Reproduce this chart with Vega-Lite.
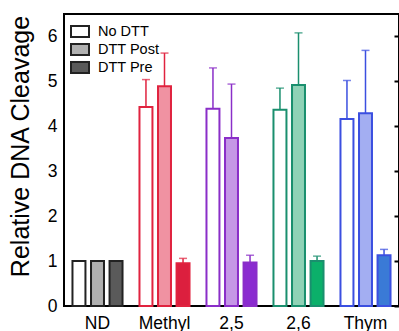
{
  "$schema": "https://vega.github.io/schema/vega-lite/v6.json",
  "width": 335,
  "height": 292,
  "autosize": {"type": "none"},
  "padding": {"left": 64, "top": 14, "right": 0, "bottom": 25},
  "config": {
    "font": "Liberation Sans",
    "view": {"stroke": "black", "strokeWidth": 2},
    "axis": {"labelColor": "black", "titleColor": "black", "domainColor": "black", "domainWidth": 2, "grid": false}
  },
  "data": {
    "values": [
      {"group": "ND", "type": "No DTT", "value": 1, "hi": null},
      {"group": "ND", "type": "DTT Post", "value": 1, "hi": null},
      {"group": "ND", "type": "DTT Pre", "value": 1, "hi": null},
      {"group": "Methyl", "type": "No DTT", "value": 4.43, "hi": 5.04},
      {"group": "Methyl", "type": "DTT Post", "value": 4.89, "hi": 5.63},
      {"group": "Methyl", "type": "DTT Pre", "value": 0.95, "hi": 1.06},
      {"group": "2,5", "type": "No DTT", "value": 4.39, "hi": 5.3},
      {"group": "2,5", "type": "DTT Post", "value": 3.74, "hi": 4.94},
      {"group": "2,5", "type": "DTT Pre", "value": 0.97, "hi": 1.13},
      {"group": "2,6", "type": "No DTT", "value": 4.37, "hi": 4.85},
      {"group": "2,6", "type": "DTT Post", "value": 4.92, "hi": 6.08},
      {"group": "2,6", "type": "DTT Pre", "value": 1.0, "hi": 1.11},
      {"group": "Thym", "type": "No DTT", "value": 4.16, "hi": 5.02},
      {"group": "Thym", "type": "DTT Post", "value": 4.29, "hi": 5.69},
      {"group": "Thym", "type": "DTT Pre", "value": 1.13, "hi": 1.26}
    ]
  },
  "transform": [{"calculate": "datum.group + '|' + datum.type", "as": "key"}],
  "encoding": {
    "x": {
      "field": "group", "type": "nominal",
      "sort": ["ND", "Methyl", "2,5", "2,6", "Thym"],
      "scale": {"paddingInner": 0.17, "paddingOuter": 0.085},
      "axis": {"title": null, "labelAngle": 0, "ticks": false, "labelFontSize": 17.5, "labelPadding": 8, "domain": false}
    },
    "xOffset": {
      "field": "type", "type": "nominal",
      "sort": ["No DTT", "DTT Post", "DTT Pre"],
      "scale": {"domain": ["No DTT", "DTT Post", "DTT Pre"], "paddingInner": 0.3, "paddingOuter": 0.15}
    }
  },
  "layer": [
    {
      "transform": [{"filter": "datum.group !== 'ND'"}],
      "mark": {"type": "bar", "strokeWidth": 2},
      "encoding": {
        "y": {
          "field": "value", "type": "quantitative",
          "scale": {"domain": [0, 6.5], "nice": false, "zero": true},
          "axis": {"orient": "left", "title": "Relative DNA Cleavage", "titleFontSize": 25, "titleFontWeight": "normal", "titlePadding": 14, "titleY": 132,
                   "values": [0, 1, 2, 3, 4, 5, 6], "ticks": false, "labelFontSize": 17.5, "labelPadding": 7, "domain": false}
        },
        "fill": {
          "field": "key", "type": "nominal", "legend": null,
          "scale": {
            "domain": ["Methyl|No DTT", "Methyl|DTT Post", "Methyl|DTT Pre",
                       "2,5|No DTT", "2,5|DTT Post", "2,5|DTT Pre",
                       "2,6|No DTT", "2,6|DTT Post", "2,6|DTT Pre",
                       "Thym|No DTT", "Thym|DTT Post", "Thym|DTT Pre"],
            "range": ["#ffffff", "#f092a2", "#dc1f3e",
                      "#ffffff", "#c597e6", "#8a2bd0",
                      "#ffffff", "#8fd2b6", "#0bb06a",
                      "#ffffff", "#a3aef2", "#3a7ad6"]
          }
        },
        "stroke": {
          "field": "group", "type": "nominal", "legend": null,
          "scale": {"domain": ["Methyl", "2,5", "2,6", "Thym"], "range": ["#e0233f", "#8a2ec8", "#1a8f6e", "#3b4fe0"]}
        }
      }
    },
    {
      "transform": [{"filter": "datum.group === 'ND'"}],
      "mark": {"type": "bar", "strokeWidth": 2, "stroke": "#222"},
      "encoding": {
        "y": {"field": "value", "type": "quantitative", "axis": null},
        "fill": {
          "field": "type", "type": "nominal",
          "scale": {"domain": ["No DTT", "DTT Post", "DTT Pre"], "range": ["#ffffff", "#b0b0b0", "#5a5a5a"]},
          "legend": {
            "title": null, "orient": "none", "legendX": 6, "legendY": 10,
            "symbolType": "M-1,-0.62H1V0.62H-1Z", "symbolSize": 324,
            "symbolStrokeColor": "#222", "symbolStrokeWidth": 2,
            "labelFontSize": 14.5, "labelColor": "black", "labelOffset": 8, "rowPadding": 2, "clipHeight": 15, "padding": 0
          }
        }
      }
    },
    {
      "transform": [{"filter": "datum.hi !== null"}],
      "mark": {"type": "rule", "strokeWidth": 1.5},
      "encoding": {
        "y": {"field": "value", "type": "quantitative", "axis": null},
        "y2": {"field": "hi"},
        "stroke": {"field": "group", "type": "nominal", "legend": null}
      }
    },
    {
      "transform": [{"filter": "datum.hi !== null"}],
      "mark": {"type": "tick", "orient": "horizontal", "size": 8, "thickness": 1.5},
      "encoding": {
        "y": {
          "field": "hi", "type": "quantitative",
          "axis": {"orient": "right", "title": null, "labels": false, "values": [0, 1, 2, 3, 4, 5, 6], "ticks": true, "tickSize": -5, "tickWidth": 2, "tickColor": "black", "domain": false}
        },
        "color": {"field": "group", "type": "nominal", "legend": null,
          "scale": {"domain": ["Methyl", "2,5", "2,6", "Thym"], "range": ["#e0233f", "#8a2ec8", "#1a8f6e", "#3b4fe0"]}}
      }
    }
  ],
  "resolve": {"scale": {"fill": "independent"}}
}
